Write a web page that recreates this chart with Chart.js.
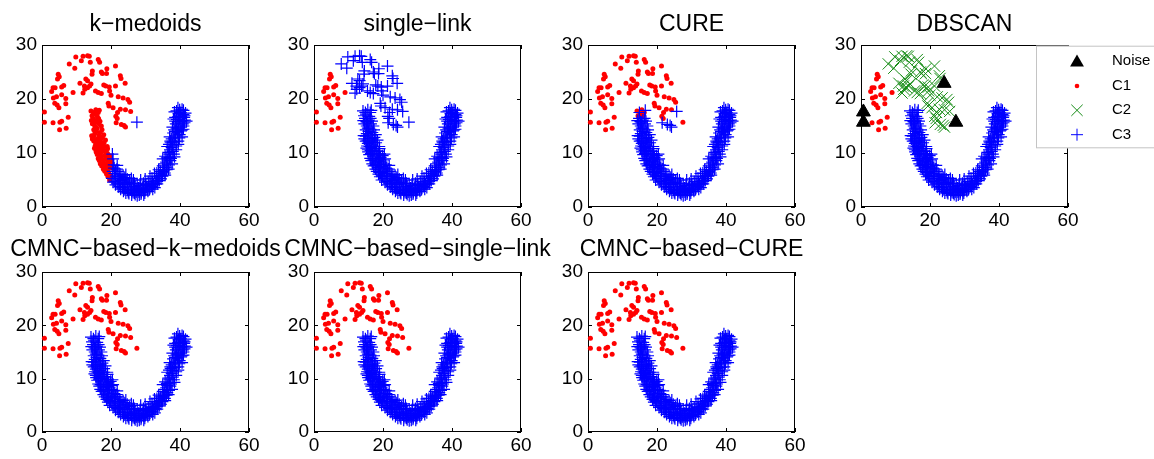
<!DOCTYPE html>
<html>
<head>
<meta charset="utf-8">
<script src="https://cdn.jsdelivr.net/npm/chart.js@4.4.1/dist/chart.umd.min.js"></script>
<style>
html, body { margin: 0; padding: 0; background: #fff; }
#wrap { position: relative; width: 1154px; height: 459px; overflow: hidden; background: #fff; }
#wrap canvas { position: absolute; }
</style>
</head>
<body>
<div id="wrap"></div>
<script>
// upper crescent
const upperMoon = [
  [9.8,27.8],[11.9,27.9],[13.2,28.0],[13.7,27.9],[11.4,27.1],[14.0,26.8],[16.3,27.3],[16.7,26.8],
  [7.9,26.5],[9.5,25.7],[21.3,26.1],[17.2,25.0],[18.8,25.6],[17.5,24.7],[18.7,24.7],[14.6,25.2],
  [14.5,24.6],[4.7,24.6],[5.0,24.1],[4.5,23.7],[22.7,24.3],[22.9,23.8],[12.7,23.7],[13.2,23.4],
  [11.0,22.9],[14.2,22.8],[12.3,22.4],[13.8,22.4],[13.2,22.1],[12.4,21.8],[11.9,21.1],[6.3,22.5],
  [5.7,22.2],[3.2,22.1],[3.8,22.1],[2.8,21.4],[9.0,21.2],[15.5,21.5],[16.3,21.2],[17.2,21.0],
  [17.9,22.6],[18.5,22.4],[19.5,22.2],[19.6,21.5],[20.0,20.7],[24.1,22.9],[21.3,22.4],[5.7,20.8],
  [3.3,20.2],[4.2,20.4],[6.9,20.1],[3.7,19.2],[4.4,18.9],[4.9,18.4],[6.9,19.1],[19.2,19.2],
  [19.4,18.7],[20.6,18.4],[22.1,20.4],[23.5,20.2],[24.9,19.9],[25.4,19.4],[22.7,18.1],[24.2,18.0],
  [25.7,17.7],[21.9,17.5],[0.7,17.6],[0.7,15.7],[7.6,16.6],[5.7,15.9],[5.2,15.7],[3.2,15.6],
  [5.1,14.3],[7.0,14.6],[21.4,16.8],[21.8,16.4],[23.0,15.3],[23.8,15.1],[24.2,14.8],[27.5,15.7],
  [21.5,15.6]
];

// lower U-shaped crescent
const lowerMoon = [
  [14.2,17.8],[15.1,17.2],[16.3,17.5],[14.8,16.4],[15.9,16.1],[16.4,16.4],[14.6,15.4],[15.3,15.0],
  [16.5,15.4],[17.2,15.0],[15.0,14.3],[15.8,14.0],[16.9,13.8],[15.0,13.1],[16.2,12.7],[17.5,12.9],
  [15.0,12.2],[15.6,11.8],[16.8,11.5],[18.0,11.9],[15.2,10.9],[16.4,10.5],[17.6,10.8],[18.6,10.3],
  [16.0,9.7],[17.1,9.4],[18.2,9.6],[19.3,9.2],[16.6,8.6],[17.8,8.3],[19.0,8.5],[20.1,8.7],
  [17.3,7.6],[18.5,7.3],[19.7,7.5],[20.8,7.8],[18.2,6.6],[19.3,6.4],[20.5,6.6],[21.7,7.0],
  [19.1,5.6],[20.3,5.3],[21.4,5.7],[22.6,6.1],[20.6,4.6],[21.8,4.4],[22.9,4.9],[24.0,5.5],
  [22.1,3.7],[23.3,3.6],[24.3,4.2],[25.4,4.8],[23.6,2.9],[24.8,3.1],[25.9,3.7],[26.8,4.4],
  [25.2,2.5],[26.4,2.7],[27.5,3.2],[28.4,4.0],[27.0,2.3],[28.1,2.8],[29.2,3.5],[30.1,4.2],
  [28.8,2.7],[29.9,3.1],[31.0,3.9],[32.0,4.6],[30.6,3.3],[31.7,3.8],[32.8,4.4],[33.8,5.3],
  [32.3,4.2],[33.5,4.9],[34.6,5.8],[35.5,6.9],[34.1,5.9],[35.2,6.6],[36.3,7.4],[37.2,8.6],
  [35.0,7.6],[36.0,8.3],[37.0,9.2],[37.9,10.3],[35.7,9.4],[36.6,10.1],[37.6,11.0],[38.5,12.1],
  [36.3,11.2],[37.3,11.9],[38.3,12.8],[39.3,13.9],[37.0,13.0],[38.0,13.7],[39.0,14.6],[40.0,15.8],
  [37.8,14.8],[38.8,15.4],[39.8,16.3],[41.0,17.1],[38.6,16.6],[39.6,17.3],[40.7,16.0],[41.0,15.0],
  [40.3,14.1],[41.2,16.6],[39.9,18.0],[38.4,17.6],[40.6,13.0],[39.5,12.2],
  [15.6,18.0],[14.5,16.9],[16.0,16.8],[15.5,15.7],[15.2,15.8],[16.0,14.6],[17.4,14.3],[15.3,13.6],
  [15.5,12.4],[16.8,12.2],[15.4,11.3],[16.1,11.2],[17.3,11.9],[15.7,10.2],[17.0,10.0],[18.0,10.4],
  [16.3,9.0],[17.4,8.9],[18.7,8.9],[16.9,8.0],[18.0,7.9],[19.2,7.9],[17.8,7.0],[19.0,6.9],
  [20.2,7.2],[18.7,6.1],[19.8,5.9],[21.0,6.2],[19.6,5.0],[20.9,5.0],[22.1,5.3],[21.3,4.1],
  [22.5,4.3],[23.7,4.6],[22.8,3.3],[24.0,3.7],[25.0,4.3],[24.3,2.6],[25.6,3.2],[26.6,3.5],
  [26.0,2.2],[27.3,2.8],[28.0,3.5],[27.6,2.1],[28.7,2.4],[29.5,3.0],[30.3,3.7],[29.8,2.6],
  [31.2,3.3],[32.1,3.9],[33.0,4.8],[34.0,4.9],[34.9,5.7],[33.2,5.6],[35.6,6.3],[36.1,6.9],
  [34.3,6.6],[36.8,7.8],[35.4,8.0],[37.4,9.0],[36.2,9.1],[38.2,9.8],[37.1,10.6],[38.9,11.3],
  [36.8,11.6],[38.0,12.0],[39.8,12.8],[37.6,12.6],[38.7,13.3],[40.3,14.8],[38.3,14.3],[39.4,15.0],
  [41.3,15.6],[39.1,16.2],[40.3,16.8],[41.3,16.9],[40.2,17.5],[41.0,17.9],[39.0,17.8],[41.4,16.1],
  [41.0,14.4],[22.9,5.6],[24.7,5.2],[26.1,4.4],[27.6,4.3],[29.4,4.4],[30.8,4.7],[31.9,5.3],
  [20.2,8.0],[21.3,6.6],[19.0,9.9],[17.9,11.2],[18.5,9.0],[23.5,5.9],[25.9,5.3],[28.6,5.0],
  [31.3,5.7],[32.6,6.2],[33.8,6.9],[35.0,8.9],
  [14.9,17.5],[16.6,17.9],[14.3,16.0],[16.8,15.9],[15.6,14.6],[14.4,13.2],[16.5,13.3],[17.9,13.4],
  [14.6,12.6],[17.0,12.6],[15.9,12.0],[18.4,12.4],[16.6,11.0],[18.9,11.2],[15.6,10.6],[17.4,10.4],
  [19.0,10.8],[16.5,9.9],[18.6,9.8],[19.9,9.5],[17.0,8.9],[19.6,8.3],[20.6,8.9],[17.7,7.7],
  [20.9,7.2],[18.9,6.4],[22.0,6.6],[20.0,5.7],[22.4,5.7],[21.2,4.7],[23.4,5.1],[22.6,3.8],
  [24.6,4.5],[24.0,3.2],[26.0,3.0],[25.0,2.7],[26.8,2.6],[27.0,3.8],[28.4,3.1],[28.2,2.2],
  [29.5,2.2],[30.7,2.9],[30.0,3.9],[31.6,4.3],[32.7,3.6],[33.4,4.3],[34.5,5.2],[33.3,6.3],
  [35.7,5.9],[36.7,7.0],[35.6,7.3],[37.7,8.0],[36.3,8.7],[38.4,9.3],[36.9,9.8],[38.9,10.6],
  [37.8,11.5],[39.5,11.6],[37.2,12.2],[39.9,13.4],[38.7,14.0],[40.6,14.3],[39.6,14.6],[40.8,15.4],
  [38.6,15.9],[40.8,16.6],[39.4,16.7],[41.6,17.4],[40.6,18.1],[39.4,18.4],[38.1,16.3],[41.9,15.9],
  [32.1,3.3],[24.3,6.0],[26.5,5.0],[29.9,5.2],[21.8,7.7],[20.4,9.8]
];

// points that single methods label differently
const dbscanNoise = [[0.7,17.6],[0.7,15.7],[24.1,22.9],[27.5,15.7]];
const kmedoidsToBlue = [[27.5,15.7]];
const cureToBlue = [[25.7,17.7],[23.0,15.3],[23.8,15.1],[24.2,14.8],[21.5,15.6]];
const cureToRed = [[14.2,17.8],[15.1,17.2],[16.3,17.5],[15.6,18.0],[14.5,16.9],[16.0,16.8]];

const xTicks = [0, 20, 40, 60];
const yTicks = [0, 10, 20, 30];
const legendLabels = ['Noise', 'C1', 'C2', 'C3'];

const panels = [
  { title: 'k\u2212medoids', col: 0, row: 0, kind: 'kmedoids' },
  { title: 'single\u2212link', col: 1, row: 0, kind: 'single' },
  { title: 'CURE', col: 2, row: 0, kind: 'cure' },
  { title: 'DBSCAN', col: 3, row: 0, kind: 'dbscan', legend: true },
  { title: 'CMNC\u2212based\u2212k\u2212medoids', col: 0, row: 1, kind: 'cmnc' },
  { title: 'CMNC\u2212based\u2212single\u2212link', col: 1, row: 1, kind: 'cmnc' },
  { title: 'CMNC\u2212based\u2212CURE', col: 2, row: 1, kind: 'cmnc' }
];

// layout
const colLeft = [42, 314, 588, 861];
const rowTop = [45, 272];
const rowH = [162, 160];
const plotW = 207;
const titleGap = [14.5, 16];
const FONT = '"Liberation Sans", Arial, Helvetica, sans-serif';
const RED = '#ff0000', BLUE = '#0000ff', GREEN = '#168c16', BLACK = '#000000';

Chart.defaults.font.family = FONT;

const has = (list, p) => list.some(q => q[0] === p[0] && q[1] === p[1]);
const leftTip = p => p[0] < 9.3 && p[1] < 25;

function split(kind) {
  const g = { noise: [], red: [], green: [], blue: [] };
  upperMoon.forEach(p => {
    if (kind === 'kmedoids') (has(kmedoidsToBlue, p) ? g.blue : g.red).push(p);
    else if (kind === 'single') (leftTip(p) ? g.red : g.blue).push(p);
    else if (kind === 'cure') (has(cureToBlue, p) ? g.blue : g.red).push(p);
    else if (kind === 'dbscan') {
      if (has(dbscanNoise, p)) g.noise.push(p);
      else (leftTip(p) ? g.red : g.green).push(p);
    } else g.red.push(p);
  });
  lowerMoon.forEach(p => {
    if (kind === 'kmedoids') (p[0] < 20.3 ? g.red : g.blue).push(p);
    else if (kind === 'cure') (has(cureToRed, p) ? g.red : g.blue).push(p);
    else g.blue.push(p);
  });
  return g;
}

const xy = arr => arr.map(p => ({ x: p[0], y: p[1] }));

function drawMarker(ctx, style, x, y, r, color) {
  ctx.save();
  ctx.strokeStyle = color; ctx.fillStyle = color; ctx.lineWidth = 1;
  ctx.beginPath();
  if (style === 'triangle') {
    for (let k = 0; k < 3; k++) {
      const a = k * 2 * Math.PI / 3;
      const px = x + Math.sin(a) * r, py = y - Math.cos(a) * r;
      k ? ctx.lineTo(px, py) : ctx.moveTo(px, py);
    }
    ctx.closePath(); ctx.fill();
  } else if (style === 'circle') {
    ctx.arc(x, y, r, 0, Math.PI * 2); ctx.fill();
  } else if (style === 'cross') {
    ctx.moveTo(x - r, y); ctx.lineTo(x + r, y);
    ctx.moveTo(x, y - r); ctx.lineTo(x, y + r); ctx.stroke();
  } else {
    const d = r * Math.SQRT1_2;
    ctx.moveTo(x - d, y - d); ctx.lineTo(x + d, y + d);
    ctx.moveTo(x - d, y + d); ctx.lineTo(x + d, y - d); ctx.stroke();
  }
  ctx.restore();
}

const framePlugin = {
  id: 'frame',
  beforeDatasetsDraw(chart) {
    const { ctx, chartArea: a, scales } = chart;
    ctx.save();
    ctx.strokeStyle = '#000'; ctx.lineWidth = 1;
    ctx.strokeRect(a.left + 0.5, a.top + 0.5, a.right - a.left - 1, a.bottom - a.top - 1);
    ctx.beginPath();
    xTicks.forEach(v => {
      const px = Math.round(scales.x.getPixelForValue(v)) + 0.5;
      ctx.moveTo(px, a.bottom); ctx.lineTo(px, a.bottom - 4);
      ctx.moveTo(px, a.top); ctx.lineTo(px, a.top + 4);
    });
    yTicks.forEach(v => {
      const py = Math.round(scales.y.getPixelForValue(v)) + 0.5;
      ctx.moveTo(a.left, py); ctx.lineTo(a.left + 4, py);
      ctx.moveTo(a.right, py); ctx.lineTo(a.right - 4, py);
    });
    ctx.stroke();
    ctx.restore();
  },
  afterDraw(chart, args, opts) {
    const { ctx, chartArea: a } = chart;
    ctx.save();
    ctx.fillStyle = '#000';
    ctx.font = '23px ' + FONT;
    ctx.textAlign = 'center';
    ctx.textBaseline = 'alphabetic';
    ctx.fillText(opts.title, (a.left + a.right) / 2, a.top - opts.gap);
    if (opts.legend) {
      const bx = a.right - 32, by = a.top + 0.7;
      ctx.fillStyle = '#fff';
      ctx.fillRect(bx, by, 140, 102.6);
      ctx.strokeStyle = '#c4c4c4';
      ctx.strokeRect(bx + 0.5, by + 0.5, 140, 101.6);
      const styles = [['triangle', 8, BLACK], ['circle', 2.3, RED], ['crossRot', 8, GREEN], ['cross', 6, BLUE]];
      const rowsY = [15.3, 40.3, 64.6, 89];
      ctx.font = '15px ' + FONT;
      ctx.textAlign = 'left';
      ctx.textBaseline = 'middle';
      legendLabels.forEach((lab, i) => {
        const s = styles[i];
        drawMarker(ctx, s[0], bx + 41, by + rowsY[i] + (i === 0 ? 1.5 : 0), s[1], s[2]);
        ctx.fillStyle = '#000';
        ctx.fillText(lab, bx + 76, by + rowsY[i]);
      });
    }
    ctx.restore();
  }
};

const wrap = document.getElementById('wrap');

panels.forEach(pn => {
  const g = split(pn.kind);
  const cl = colLeft[pn.col] - 40;
  const ct = rowTop[pn.row] - 40;
  const cw = pn.legend ? 1154 - cl : plotW + 80;
  const ch = rowH[pn.row] + 70;
  const cv = document.createElement('canvas');
  cv.width = cw; cv.height = ch;
  cv.style.left = cl + 'px'; cv.style.top = ct + 'px';
  cv.style.width = cw + 'px'; cv.style.height = ch + 'px';
  wrap.appendChild(cv);

  const base = { showLine: false, clip: false, pointBorderWidth: 1 };
  new Chart(cv.getContext('2d'), {
    type: 'scatter',
    data: {
      datasets: [
        Object.assign({}, base, { label: legendLabels[0], data: xy(g.noise), pointStyle: 'triangle', pointRadius: 8,
          backgroundColor: BLACK, borderColor: BLACK }),
        Object.assign({}, base, { label: legendLabels[3], data: xy(g.blue), pointStyle: 'cross', pointRadius: 6,
          pointBorderWidth: 1.2, backgroundColor: BLUE, borderColor: BLUE }),
        Object.assign({}, base, { label: legendLabels[2], data: xy(g.green), pointStyle: 'crossRot', pointRadius: 8,
          backgroundColor: GREEN, borderColor: GREEN }),
        Object.assign({}, base, { label: legendLabels[1], data: xy(g.red), pointStyle: 'circle', pointRadius: 2.5,
          pointBorderWidth: 0, backgroundColor: RED, borderColor: RED })
      ]
    },
    options: {
      responsive: false,
      devicePixelRatio: 1,
      animation: false,
      events: [],
      layout: { padding: { top: 40, right: cw - 40 - plotW, left: 0, bottom: 0 } },
      plugins: {
        legend: { display: false },
        tooltip: { enabled: false },
        frame: { title: pn.title, gap: titleGap[pn.row], legend: !!pn.legend }
      },
      scales: {
        x: {
          type: 'linear', min: 0, max: 60,
          afterBuildTicks: s => { s.ticks = xTicks.map(v => ({ value: v })); },
          afterFit: s => { s.height = 30; },
          grid: { display: false, drawTicks: false },
          border: { display: false },
          ticks: { color: '#000', font: { size: 19 }, padding: 2, maxRotation: 0, autoSkip: false }
        },
        y: {
          type: 'linear', min: 0, max: 30,
          afterBuildTicks: s => { s.ticks = yTicks.map(v => ({ value: v })); },
          afterFit: s => { s.width = 40; },
          grid: { display: false, drawTicks: false },
          border: { display: false },
          ticks: { color: '#000', font: { size: 19 }, padding: 5, autoSkip: false }
        }
      }
    },
    plugins: [framePlugin]
  });
});
</script>
</body>
</html>
